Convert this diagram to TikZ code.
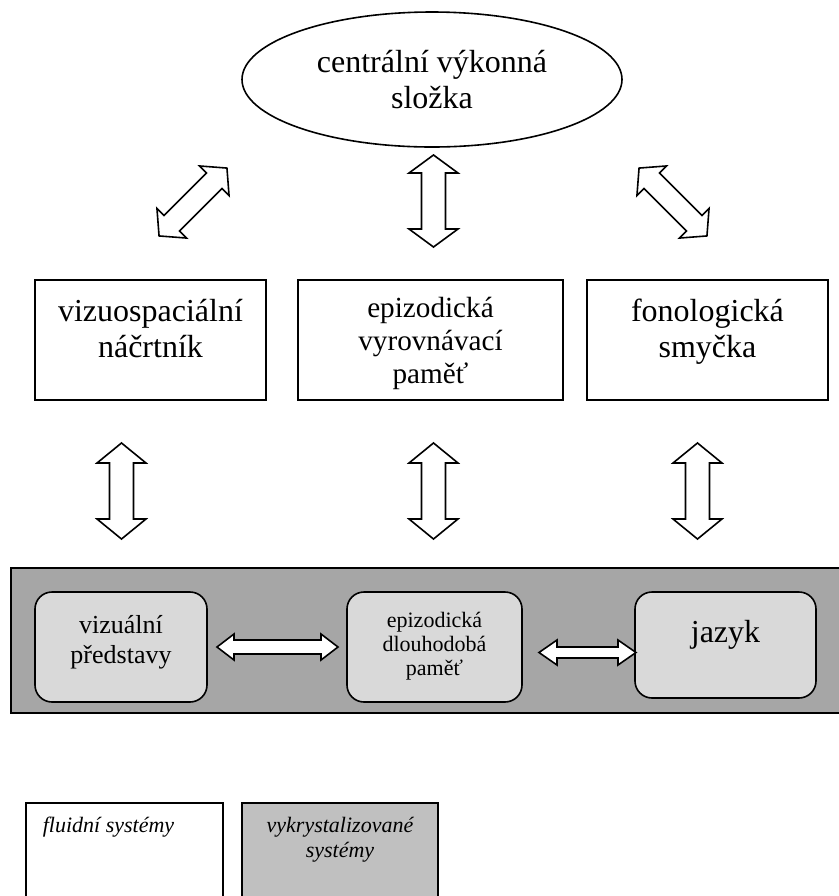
\documentclass[tikz,border=0pt]{standalone}
\usepackage{fontspec}
\setmainfont{Liberation Serif}
\usetikzlibrary{shapes.geometric}
\definecolor{bandgray}{RGB}{166,166,166}
\definecolor{memgray}{RGB}{217,217,217}
\definecolor{keygray}{RGB}{192,192,192}
% block arrow with two heads: length/head width/shaft width/head length
\tikzset{
	pics/dblarrow/.style args={#1/#2/#3/#4}{code={%
			\draw[fill=white] (-#1/2,0) -- (-#1/2+#4,-#2/2) -- (-#1/2+#4,-#3/2) -- (#1/2-#4,-#3/2) -- (#1/2-#4,-#2/2) -- (#1/2,0)
			-- (#1/2-#4,#2/2) -- (#1/2-#4,#3/2) -- (-#1/2+#4,#3/2) -- (-#1/2+#4,#2/2) -- cycle;}}
}
\begin{document}
\begin{tikzpicture}[x=0.5pt, y=-0.5pt, line width=0.8pt, line join=miter,
	big/.style={font=\fontsize{16}{18}\selectfont, align=center, inner sep=0pt},
	mid/.style={font=\fontsize{13}{15}\selectfont, align=center, inner sep=0pt},
	small/.style={font=\fontsize{11}{12}\selectfont, align=center, inner sep=0pt},
	topbox/.style={draw, minimum height=60pt},
	membox/.style={draw, fill=memgray, rounded corners=8.5pt},
	keytext/.style={font=\fontsize{11}{12.5}\selectfont\itshape, align=center, inner sep=0pt}]
	\useasboundingbox (0,0) rectangle (839,896);
	\path
	(193,202) coordinate (AL)
	(433.5,201) coordinate (AM)
	(673,202) coordinate (AR)
	(121.5,491) coordinate (BL)
	(433.5,491) coordinate (BM)
	(697.5,491) coordinate (BR)
	(277.5,647) coordinate (CL)
	(587.5,652.5) coordinate (CR)
	;
	% central executive
	\node[draw, ellipse, minimum width=190pt, minimum height=67.5pt, big] (ce) at (432,79.5) {centrální výkonná\\složka};
	% slave systems (text: base = last line)
	\node[topbox, minimum width=115.5pt] (vis) at (150.5,340) {};
	\node[topbox, minimum width=132.5pt] (epi) at (430.5,340) {};
	\node[topbox, minimum width=120.5pt] (fon) at (707.5,340) {};
	\node[big, anchor=base] (vist) at (vis.center|-0,357) {vizuospaciální\\náčrtník};
	\node[big, font=\fontsize{14.6}{16.3}\selectfont, anchor=base] (epit) at (epi.center|-0,383) {epizodická\\vyrovnávací\\paměť};
	\node[big, anchor=base] (font) at (fon.center|-0,357) {fonologická\\smyčka};
	% long-term memory
	\draw[fill=bandgray] (11,568) rectangle (850,713);
	\node[membox, minimum width=86pt, minimum height=55pt] (vp) at (121,647) {};
	\node[membox, minimum width=87.5pt, minimum height=55pt] (edp) at (434.5,647) {};
	\node[membox, minimum width=90.5pt, minimum height=53pt] (jaz) at (725.5,645) {};
	\node[mid] (vpt) at (121,642) {vizuální\\představy};
	\node[small] (edpt) at (434.5,646) {epizodická\\dlouhodobá\\paměť};
	\node[big] (jazt) at (725.5,635) {jazyk};
	% arrows
	\pic[rotate=45] at (AL) {dblarrow=96/42/22/18};
	\pic[rotate=90] at (AM) {dblarrow=92/49/24/18};
	\pic[rotate=-45] at (AR) {dblarrow=96/42/22/18};
	\foreach \p in {BL,BM,BR}{
		\pic[rotate=90] at (\p) {dblarrow=96/49/24/20};}
	\pic at (CL) {dblarrow=121/26/14/17};
	\pic at (CR) {dblarrow=97/25/11/18};
	% key
	\draw (26,900) |- (223,803) -- (223,900);
	\draw[fill=keygray] (242,900) |- (438,803) -- (438,900);
	\node[keytext, anchor=base west] (flu) at (42,832) {fluidní systémy};
	\node[keytext, anchor=base] (kry) at (340,857) {vykrystalizované\\systémy};
\end{tikzpicture}
\end{document}
